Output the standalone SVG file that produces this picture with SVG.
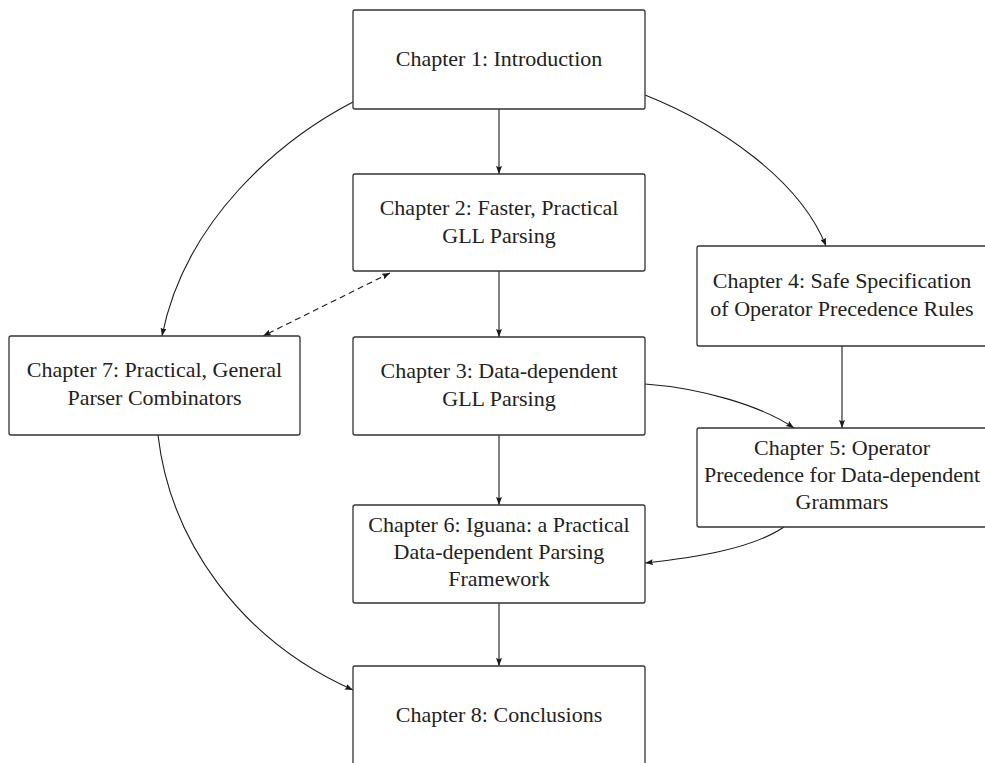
<svg xmlns="http://www.w3.org/2000/svg" width="985" height="763" viewBox="0 0 985 763">
  <defs>
    <style>
      .box { fill: #ffffff; stroke: #333333; stroke-width: 1.3; }
      .lbl { font-family: "Liberation Serif", "DejaVu Serif", serif; font-size: 22px; fill: #222222; text-anchor: middle; }
      .edge { fill: none; stroke: #1a1a1a; stroke-width: 1.1; }
      .dash { stroke-dasharray: 6 4; }
    </style>
    <marker id="arr" viewBox="0 0 8 6" refX="8" refY="3" markerWidth="8" markerHeight="6" markerUnits="userSpaceOnUse" orient="auto-start-reverse">
      <path d="M0,0 L8,3 L0,6 L1.2,3 z" fill="#1a1a1a"/>
    </marker>
  </defs>
  <rect width="985" height="763" fill="#ffffff"/>

  <g id="connectors">
    <path class="edge" d="M499,109 L499,174" marker-end="url(#arr)"/>
    <path class="edge" d="M499,271 L499,337" marker-end="url(#arr)"/>
    <path class="edge" d="M499,435 L499,505" marker-end="url(#arr)"/>
    <path class="edge" d="M499,603 L499,666" marker-end="url(#arr)"/>
    <path class="edge" d="M645,95 C720,125 800,180 826,246" marker-end="url(#arr)"/>
    <path class="edge" d="M353,102 C280,140 185,220 162,336" marker-end="url(#arr)"/>
    <path class="edge dash" d="M390,273 L263,336" marker-start="url(#arr)" marker-end="url(#arr)"/>
    <path class="edge" d="M158,435 C170,540 240,640 353,690" marker-end="url(#arr)"/>
    <path class="edge" d="M645,384 C700,388 760,405 794,428" marker-end="url(#arr)"/>
    <path class="edge" d="M842,346 L842,428" marker-end="url(#arr)"/>
    <path class="edge" d="M784,527 C750,550 690,558 645,563" marker-end="url(#arr)"/>
  </g>

  <g id="ch1">
    <rect class="box" x="353" y="10" width="292" height="99" rx="2"/>
    <text class="lbl" x="499" y="66">Chapter 1: Introduction</text>
  </g>
  <g id="ch2">
    <rect class="box" x="353" y="174" width="292" height="97" rx="2"/>
    <text class="lbl" x="499" y="215">Chapter 2: Faster, Practical</text>
    <text class="lbl" x="499" y="243">GLL Parsing</text>
  </g>
  <g id="ch3">
    <rect class="box" x="353" y="337" width="292" height="98" rx="2"/>
    <text class="lbl" x="499" y="378">Chapter 3: Data-dependent</text>
    <text class="lbl" x="499" y="406">GLL Parsing</text>
  </g>
  <g id="ch4">
    <rect class="box" x="697" y="246" width="290" height="100" rx="2"/>
    <text class="lbl" x="842" y="288">Chapter 4: Safe Specification</text>
    <text class="lbl" x="842" y="316">of Operator Precedence Rules</text>
  </g>
  <g id="ch5">
    <rect class="box" x="697" y="428" width="290" height="99" rx="2"/>
    <text class="lbl" x="842" y="455">Chapter 5: Operator</text>
    <text class="lbl" x="842" y="482">Precedence for Data-dependent</text>
    <text class="lbl" x="842" y="509">Grammars</text>
  </g>
  <g id="ch6">
    <rect class="box" x="353" y="505" width="292" height="98" rx="2"/>
    <text class="lbl" x="499" y="532">Chapter 6: Iguana: a Practical</text>
    <text class="lbl" x="499" y="559">Data-dependent Parsing</text>
    <text class="lbl" x="499" y="586">Framework</text>
  </g>
  <g id="ch7">
    <rect class="box" x="9" y="336" width="291" height="99" rx="2"/>
    <text class="lbl" x="154.5" y="377">Chapter 7: Practical, General</text>
    <text class="lbl" x="154.5" y="405">Parser Combinators</text>
  </g>
  <g id="ch8">
    <rect class="box" x="353" y="666" width="292" height="100" rx="2"/>
    <text class="lbl" x="499" y="722">Chapter 8: Conclusions</text>
  </g>
</svg>
